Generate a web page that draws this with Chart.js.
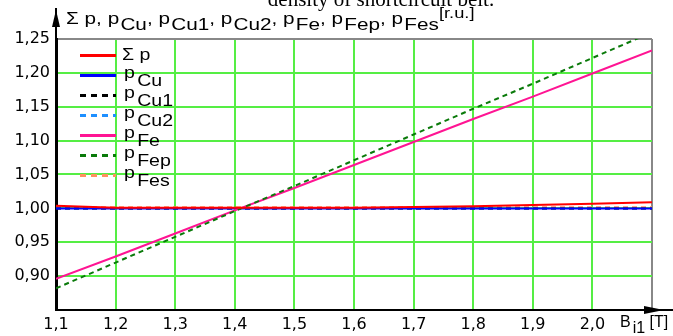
<!DOCTYPE html>
<html>
<head>
<meta charset="utf-8">
<script src="https://cdn.jsdelivr.net/npm/chart.js@4.4.0/dist/chart.umd.min.js"></script>
<style>
  html, body { margin: 0; padding: 0; background: #fff; }
  #wrap { width: 673px; height: 336px; position: relative; }
</style>
</head>
<body>
<div id="wrap"><canvas id="lossChart"></canvas></div>
<script>
// Flux density B_i1 [T]
const xValues = [1.1, 1.2, 1.3, 1.4, 1.5, 1.6, 1.7, 1.8, 1.9, 2.0, 2.1];

// relative losses [r.u.]
const sumP = [1.004, 1.001, 1.001, 1.001, 1.001, 1.001, 1.002, 1.003, 1.005, 1.007, 1.009];
const pCu  = [1.000, 1.000, 1.000, 1.000, 1.000, 1.000, 1.000, 1.000, 1.000, 1.000, 1.000];
const pCu1 = [1.000, 1.000, 1.000, 1.000, 1.000, 1.000, 1.000, 1.000, 1.000, 1.000, 1.000];
const pCu2 = [1.000, 1.000, 1.000, 1.000, 1.000, 1.000, 1.000, 1.000, 1.000, 1.000, 1.000];
const pFe  = [0.896, 0.929, 0.963, 0.997, 1.030, 1.064, 1.098, 1.132, 1.165, 1.199, 1.233];
const pFep = [0.882, 0.920, 0.958, 0.996, 1.033, 1.071, 1.109, 1.147, 1.184, 1.222, 1.260];
const pFes = [1.0015, 1.0015, 1.0015, 1.0015, 1.0015, 1.0015, 1.0015, 1.0015, 1.0015, 1.0015, 1.0015];

// legend text: main part + subscript
const legendMain = ['\u03A3 p', 'p', 'p', 'p', 'p', 'p', 'p'];
const legendSub  = ['', 'Cu', 'Cu1', 'Cu2', 'Fe', 'Fep', 'Fes'];

const seriesValues = [sumP, pCu, pCu1, pCu2, pFe, pFep, pFes];
const seriesColors = ['#ff0000', '#0000ff', '#000000', '#1e8fff', '#ff1493', '#0a7a0a', '#ff9060'];
const seriesDash   = [[], [], [5, 4], [5, 4], [], [5, 4], [5, 4]];

const GRID = '#55ee44';
const FONT = "'DejaVu Sans', Arial, sans-serif";
const SANS = "'Liberation Sans', Arial, sans-serif";

function pts(arr) {
    return arr.map((v, i) => ({ x: xValues[i], y: v }));
}

// draws text pieces (main / lowered subscript), horizontally stretched by sx
function drawParts(ctx, parts, x, y, sx) {
    ctx.save();
    ctx.translate(x, y);
    ctx.scale(sx || 1, 1);
    let cx = 0;
    parts.forEach(p => {
        ctx.font = p.size + 'px ' + SANS;
        cx += p.gap || 0;
        ctx.fillText(p.t, cx, p.dy || 0);
        cx += ctx.measureText(p.t).width;
    });
    ctx.restore();
}

const decorations = {
    id: 'decorations',
    afterDraw(chart) {
        const ctx = chart.ctx;
        const area = chart.chartArea;
        ctx.save();
        ctx.fillStyle = '#000';
        ctx.textBaseline = 'alphabetic';

        // cut-off caption at the very top
        ctx.font = "21px 'Liberation Serif', 'Times New Roman', serif";
        ctx.textAlign = 'center';
        ctx.fillText('density of shortcircuit belt.', 381, 6);
        ctx.textAlign = 'left';

        // y axis title with subscripts
        const yt = [];
        yt.push({ t: '\u03A3 p, p', size: 17 });
        ['Cu', 'Cu1', 'Cu2', 'Fe', 'Fep', 'Fes'].forEach((s, i, a) => {
            yt.push({ t: s, size: 17, dy: 6, gap: 1 });
            if (i < a.length - 1) yt.push({ t: ', p', size: 17 });
        });
        yt.push({ t: '[r.u.]', size: 15, dy: -6 });
        drawParts(ctx, yt, 66, 24, 1.22);

        // axis arrows
        ctx.strokeStyle = '#000';
        ctx.lineWidth = 2;
        ctx.beginPath();
        ctx.moveTo(area.left, area.top);
        ctx.lineTo(area.left, 8);
        ctx.moveTo(area.right, area.bottom);
        ctx.lineTo(673, area.bottom);
        ctx.stroke();
        ctx.beginPath();
        ctx.moveTo(area.left, 10);
        ctx.lineTo(area.left - 4, 27);
        ctx.lineTo(area.left + 4, 27);
        ctx.closePath();
        ctx.fill();
        ctx.beginPath();
        ctx.moveTo(664, area.bottom);
        ctx.lineTo(644, area.bottom - 4);
        ctx.lineTo(644, area.bottom + 4);
        ctx.closePath();
        ctx.fill();

        // x axis title
        drawParts(ctx, [
            { t: 'B', size: 16 },
            { t: 'i1', size: 16, dy: 6, gap: 2 },
            { t: ' [T]', size: 16 }
        ], 620, 327, 1);

        // legend
        legendMain.forEach((m, i) => {
            const ly = 55.5 + 20 * i;
            ctx.strokeStyle = seriesColors[i];
            ctx.lineWidth = 3;
            ctx.setLineDash(seriesDash[i].length ? [6, 5] : []);
            ctx.beginPath();
            ctx.moveTo(80, ly);
            ctx.lineTo(116, ly);
            ctx.stroke();
            ctx.setLineDash([]);
            ctx.fillStyle = '#000';
            if (i === 0) {
                drawParts(ctx, [{ t: m, size: 17 }], 122, ly + 4, 1.15);
            } else {
                drawParts(ctx, [{ t: m, size: 17 }, { t: legendSub[i], size: 17, dy: 8, gap: 2 }], 124, ly + 2.5, 1.15);
            }
        });
        ctx.restore();
    }
};

new Chart(document.getElementById('lossChart'), {
    type: 'line',
    data: {
        datasets: seriesValues.map((vals, i) => ({
            label: legendMain[i] + legendSub[i],
            data: pts(vals),
            borderColor: seriesColors[i],
            borderWidth: 2,
            borderDash: seriesDash[i],
            pointRadius: 0,
            fill: false,
            tension: 0,
            order: [0, 3, 4, 5, 2, 1, 6][i]
        }))
    },
    options: {
        responsive: true,
        maintainAspectRatio: false,
        animation: false,
        layout: { padding: { top: 39, right: 21, left: 0, bottom: 0 } },
        plugins: {
            legend: { display: false },
            title: { display: false },
            tooltip: { enabled: false }
        },
        scales: {
            x: {
                type: 'linear',
                min: 1.1,
                max: 2.1,
                afterFit: s => { s.height = 26; },
                border: { color: '#000', width: 2 },
                grid: {
                    drawTicks: false,
                    lineWidth: 2,
                    color: c => Math.abs(c.tick.value - 2.1) < 1e-6 ? '#888' : GRID
                },
                ticks: {
                    stepSize: 0.1,
                    padding: 5,
                    color: '#000',
                    font: { family: FONT, size: 16 },
                    maxRotation: 0,
                    callback: v => Math.abs(v - 2.1) < 1e-6 ? '' : v.toFixed(1).replace('.', ',')
                }
            },
            y: {
                min: 0.85,
                max: 1.25,
                afterFit: s => { s.width = 56; },
                border: { color: '#000', width: 3 },
                grid: {
                    drawTicks: false,
                    lineWidth: 2,
                    color: c => Math.abs(c.tick.value - 1.25) < 1e-6 ? '#888' : GRID
                },
                ticks: {
                    stepSize: 0.05,
                    padding: 6,
                    color: '#000',
                    font: { family: FONT, size: 16 },
                    callback: v => Math.abs(v - 0.85) < 1e-6 ? '' : v.toFixed(2).replace('.', ',')
                }
            }
        }
    },
    plugins: [decorations]
});
</script>
</body>
</html>
